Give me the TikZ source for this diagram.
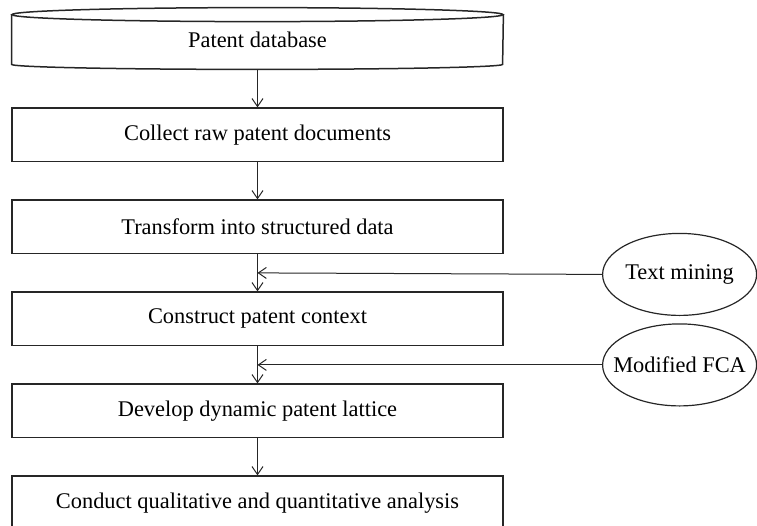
\documentclass[tikz,border=0pt]{standalone}
\usepackage{fontspec}
\setmainfont{Liberation Serif}
\usetikzlibrary{arrows.meta,positioning,calc,shapes.geometric}
\definecolor{ln}{HTML}{262626}
\tikzset{
  box/.style={draw=ln,line width=0.75pt,minimum width=245.5pt,minimum height=26.75pt,inner sep=0pt,align=center},
  dbbox/.style={minimum width=245.5pt,minimum height=24.5pt,inner sep=0pt,align=center},
  oval/.style={ellipse,draw=ln,line width=0.6pt,minimum width=77pt,minimum height=41pt,inner sep=0pt,inner xsep=-6pt},
  ar/.style={-{Straight Barb[length=4pt,width=5.5pt]},line width=0.5pt,draw=ln},
}

\begin{document}
\begin{tikzpicture}[x=0.5pt,y=0.5pt,node distance=18.5pt,every node/.style={font=\fontsize{11.2}{13}\selectfont}]
  \useasboundingbox (0,0) rectangle (757,-526);
  \node[dbbox] (db) at (257.5,-39.5) {Patent database};
  \draw[draw=ln,line width=0.75pt] (db.north west) -- (db.south west)
    arc[start angle=180,end angle=360,x radius=122.75pt,y radius=2.5pt] -- (db.north east);
  \draw[draw=ln,line width=0.75pt] (db.north) ellipse[x radius=122.75pt,y radius=3.5pt];
  \node[box,below=21.5pt of db] (coll) {Collect raw patent documents};
  \node[box,below=of coll] (trans) {Transform into structured data};
  \node[box,below=of trans] (ctx) {Construct patent context};
  \node[box,below=of ctx] (lat) {Develop dynamic patent lattice};
  \node[box,below=of lat] (ana) {Conduct qualitative and quantitative analysis};
  \coordinate (j1) at ($(trans.south)!0.5!(ctx.north)$);
  \coordinate (j2) at ($(ctx.south)!0.5!(lat.north)$);
  \node[oval,right=172.25pt of j1,yshift=-0.75pt] (tm) {Text mining};
  \node[oval,right=172.25pt of j2] (fca) {Modified FCA};
  \draw[ar] ([yshift=-2.5pt]db.south) -- (coll);
  \draw[ar] (coll) -- (trans);
  \draw[ar] (trans) -- (ctx);
  \draw[ar] (ctx) -- (lat);
  \draw[ar] (lat) -- (ana);
  \draw[ar] (tm.west) -- (j1);
  \draw[ar] (fca.west) -- (j2);
\end{tikzpicture}
\end{document}
